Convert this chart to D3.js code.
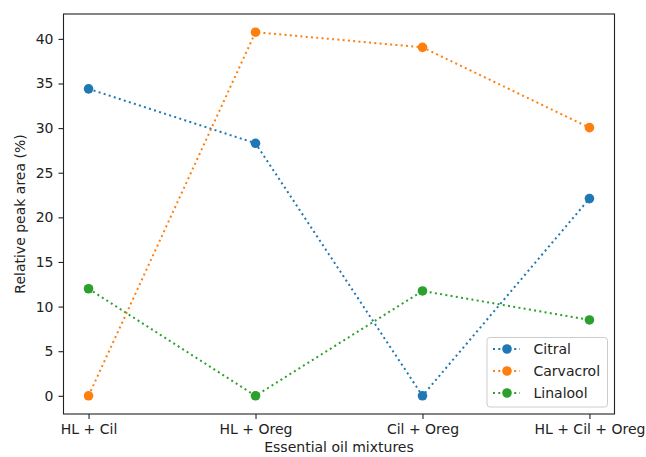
<!DOCTYPE html>
<html>
<head>
<meta charset="utf-8">
<script src="https://cdn.jsdelivr.net/npm/d3@7"></script>
<style>
  html, body { margin: 0; padding: 0; background: #fff; }
  svg { display: block; font-family: "DejaVu Sans", sans-serif; }
</style>
</head>
<body>
<svg id="chart" width="646" height="457"></svg>
<script>
const categories = ["HL + Cil", "HL + Oreg", "Cil + Oreg", "HL + Cil + Oreg"];
const citral = [34.4, 28.3, 0, 22.1];
const carvacrol = [0, 40.75, 39.05, 30.05];
const linalool = [12.0, 0, 11.75, 8.5];
const seriesNames = ["Citral", "Carvacrol", "Linalool"];
const seriesColors = ["#1f77b4", "#ff7f0e", "#2ca02c"];
const yTicks = [0, 5, 10, 15, 20, 25, 30, 35, 40];
const xLabel = "Essential oil mixtures";
const yLabel = "Relative peak area (%)";

const series = [citral, carvacrol, linalool].map((vals, i) => ({
  name: seriesNames[i], color: seriesColors[i], values: vals
}));

const svg = d3.select("#chart");
const mLeft = 63.5, mRight = 614.5, mTop = 14, mBottom = 414;

const n = categories.length;
const xm = (n - 1) * 0.05;
const x = d3.scaleLinear().domain([-xm, n - 1 + xm]).range([mLeft, mRight]);
const allVals = [].concat(citral, carvacrol, linalool);
const yMin = d3.min(allVals), yMax = d3.max(allVals);
const ym = (yMax - yMin) * 0.05;
const y = d3.scaleLinear().domain([yMin - ym, yMax + ym]).range([mBottom, mTop]);

// axes
const xAxis = d3.axisBottom(x).tickValues(d3.range(n)).tickFormat(i => categories[i]).tickSizeOuter(0).tickSize(5).tickPadding(5);
const yAxis = d3.axisLeft(y).tickValues(yTicks).tickSizeOuter(0).tickSize(5).tickPadding(5);

const gx = svg.append("g").attr("transform", `translate(0,${mBottom})`).call(xAxis);
const gy = svg.append("g").attr("transform", `translate(${mLeft},0)`).call(yAxis);
[gx, gy].forEach(g => {
  g.select(".domain").remove();
  g.selectAll(".tick line").attr("stroke", "#222").attr("stroke-width", 1.1);
  g.selectAll(".tick text").attr("fill", "#222").style("font-size", "14px").style("font-family", "DejaVu Sans, sans-serif");
});

// lines and markers
const line = d3.line().x((d, i) => x(i)).y(d => y(d));
series.forEach(s => {
  svg.append("path")
    .attr("d", line(s.values))
    .attr("fill", "none")
    .attr("stroke", s.color)
    .attr("stroke-width", 2)
    .attr("stroke-dasharray", "2,3.3");
  svg.append("g").selectAll("circle").data(s.values).join("circle")
    .attr("cx", (d, i) => x(i))
    .attr("cy", d => y(d))
    .attr("r", 4.8)
    .attr("fill", s.color);
});

// frame
svg.append("rect")
  .attr("x", mLeft).attr("y", mTop)
  .attr("width", mRight - mLeft).attr("height", mBottom - mTop)
  .attr("fill", "none").attr("stroke", "#222").attr("stroke-width", 1.1);

// axis labels
svg.append("text")
  .attr("x", (mLeft + mRight) / 2).attr("y", 452)
  .attr("text-anchor", "middle").attr("fill", "#222")
  .style("font-size", "14px").text(xLabel);
svg.append("text")
  .attr("transform", `translate(25,${(mTop + mBottom) / 2}) rotate(-90)`)
  .attr("text-anchor", "middle").attr("fill", "#222")
  .style("font-size", "14px").text(yLabel);

// legend
const lg = svg.append("g").attr("transform", "translate(487,337.5)");
lg.append("rect")
  .attr("width", 120.5).attr("height", 69.5)
  .attr("rx", 3).attr("ry", 3)
  .attr("fill", "#fff").attr("fill-opacity", 0.8)
  .attr("stroke", "#ccc").attr("stroke-width", 1);
series.forEach((s, i) => {
  const yy = 11.5 + i * 22;
  lg.append("line")
    .attr("x1", 6).attr("x2", 33).attr("y1", yy).attr("y2", yy)
    .attr("stroke", s.color).attr("stroke-width", 2).attr("stroke-dasharray", "2,3.3");
  lg.append("circle").attr("cx", 20).attr("cy", yy).attr("r", 4.8).attr("fill", s.color);
  lg.append("text")
    .attr("x", 46.5).attr("y", yy + 5)
    .attr("fill", "#222").style("font-size", "14px").text(s.name);
});
</script>
</body>
</html>
